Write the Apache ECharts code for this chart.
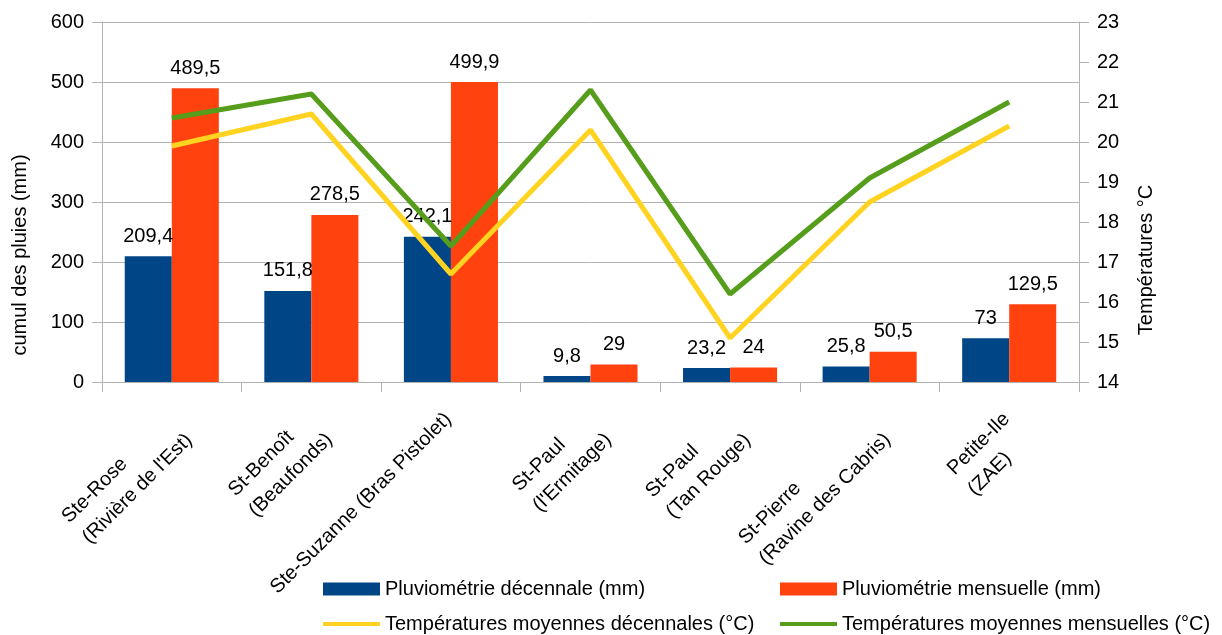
<!DOCTYPE html>
<html>
<head>
<meta charset="utf-8">
<script src="https://cdn.jsdelivr.net/npm/echarts@6/dist/echarts.min.js"></script>
<style>
html,body{margin:0;padding:0;background:#fff;}
#chart{width:1222px;height:635px;}
</style>
</head>
<body>
<div id="chart"></div>
<script>
const categories = [
  "Ste-Rose\n(Rivière de l'Est)",
  "St-Benoît\n(Beaufonds)",
  "Ste-Suzanne (Bras Pistolet)",
  "St-Paul\n(l'Ermitage)",
  "St-Paul\n(Tan Rouge)",
  "St-Pierre\n(Ravine des Cabris)",
  "Petite-Ile\n(ZAE)"
];
const seriesNames = [
  "Pluviométrie décennale (mm)",
  "Pluviométrie mensuelle (mm)",
  "Températures moyennes décennales (°C)",
  "Températures moyennes mensuelles (°C)"
];
const pluvioDecennale = [209.4, 151.8, 242.1, 9.8, 23.2, 25.8, 73];
const pluvioMensuelle = [489.5, 278.5, 499.9, 29, 24, 50.5, 129.5];
const tempDecennale = [19.9, 20.7, 16.7, 20.3, 15.1, 18.5, 20.4];
const tempMensuelle = [20.6, 21.2, 17.4, 21.3, 16.2, 19.1, 21.0];
const leftTicks = [0, 100, 200, 300, 400, 500, 600];
const rightTicks = [14, 15, 16, 17, 18, 19, 20, 21, 22, 23];

const FONT = '"Liberation Sans", Arial, sans-serif';
const FS = 20;
const colors = ['#004586', '#ff420e', '#ffd320', '#579d1c'];

// measure lines so that multi-line category labels are left-aligned in one block
const cv = document.createElement('canvas').getContext('2d');
cv.font = FS + 'px "Liberation Sans"';
const rich = {};
categories.forEach((c, i) => {
  const w = Math.max(...c.split('\n').map(l => cv.measureText(l).width));
  rich['c' + i] = {width: Math.ceil(w) + 1, align: 'left', fontSize: FS, fontFamily: FONT, color: '#000', lineHeight: 29};
});

const fmt = v => String(v).replace('.', ',');

const legendText = {fontSize: FS, fontFamily: FONT, color: '#000', lineHeight: 22};
function legendFor(name, left, top, isLine) {
  return {
    orient: 'horizontal', left: left, top: top, padding: 0,
    itemWidth: 57, itemHeight: isLine ? 4 : 13,
    data: [isLine ? {name: name, icon: 'rect'} : {name: name, icon: 'rect'}],
    textStyle: legendText
  };
}

const chart = echarts.init(document.getElementById('chart'), null, {renderer: 'canvas'});
chart.setOption({
  animation: false,
  backgroundColor: '#fff',
  textStyle: {fontFamily: FONT},
  grid: {left: 102, right: 143, top: 22, bottom: 253, containLabel: false},
  legend: [
    legendFor(seriesNames[0], 323, 578, false),
    legendFor(seriesNames[2], 323, 613, true),
    legendFor(seriesNames[1], 780, 578, false),
    legendFor(seriesNames[3], 780, 613, true)
  ],
  xAxis: {
    type: 'category',
    data: categories,
    boundaryGap: true,
    axisLine: {show: true, lineStyle: {color: '#b3b3b3', width: 1}},
    axisTick: {show: true, length: 10, lineStyle: {color: '#b3b3b3'}},
    axisLabel: {
      interval: 0, rotate: 45, margin: 11,
      align: 'right', verticalAlign: 'top',
      padding: [0, 17, 0, 0],
      fontSize: FS, fontFamily: FONT, color: '#000',
      formatter: (v, i) => v.split('\n').map(l => '{c' + i + '|' + l + '}').join('\n'),
      rich: rich
    },
    splitLine: {show: false}
  },
  yAxis: [
    {
      type: 'value', min: leftTicks[0], max: leftTicks[leftTicks.length - 1], interval: 100,
      position: 'left',
      axisLine: {show: true, lineStyle: {color: '#b3b3b3'}},
      axisTick: {show: true, length: 10, lineStyle: {color: '#b3b3b3'}},
      axisLabel: {fontSize: FS, fontFamily: FONT, color: '#000', margin: 18},
      splitLine: {show: true, lineStyle: {color: '#b3b3b3', width: 1}}
    },
    {
      type: 'value', min: rightTicks[0], max: rightTicks[rightTicks.length - 1], interval: 1,
      position: 'right',
      axisLine: {show: true, lineStyle: {color: '#b3b3b3'}},
      axisTick: {show: true, length: 10, lineStyle: {color: '#b3b3b3'}},
      axisLabel: {fontSize: FS, fontFamily: FONT, color: '#000', margin: 18},
      splitLine: {show: false}
    }
  ],
  graphic: [
    {
      type: 'text', x: 20, y: 255, rotation: Math.PI / 2,
      style: {text: 'cumul des pluies (mm)', fontSize: FS, fontFamily: FONT, fill: '#000', align: 'center', verticalAlign: 'middle'}
    },
    {
      type: 'text', x: 1146, y: 260, rotation: Math.PI / 2,
      style: {text: 'Températures °C', fontSize: FS, fontFamily: FONT, fill: '#000', align: 'center', verticalAlign: 'middle'}
    }
  ],
  series: [
    {
      name: seriesNames[0], type: 'bar', yAxisIndex: 0, data: pluvioDecennale,
      barWidth: '33.7%', barGap: '0%', z: 2,
      itemStyle: {color: colors[0]},
      label: {show: true, position: 'top', distance: 10, fontSize: FS, fontFamily: FONT, color: '#000', formatter: p => fmt(p.value)}
    },
    {
      name: seriesNames[1], type: 'bar', yAxisIndex: 0, data: pluvioMensuelle,
      barWidth: '33.7%', barGap: '0%', z: 2,
      itemStyle: {color: colors[1]},
      label: {show: true, position: 'top', distance: 10, fontSize: FS, fontFamily: FONT, color: '#000', formatter: p => fmt(p.value)}
    },
    {
      name: seriesNames[2], type: 'line', yAxisIndex: 1, data: tempDecennale,
      symbol: 'none', z: 5,
      lineStyle: {color: colors[2], width: 5},
      itemStyle: {color: colors[2]}
    },
    {
      name: seriesNames[3], type: 'line', yAxisIndex: 1, data: tempMensuelle,
      symbol: 'none', z: 5,
      lineStyle: {color: colors[3], width: 5},
      itemStyle: {color: colors[3]}
    }
  ]
});
</script>
</body>
</html>
